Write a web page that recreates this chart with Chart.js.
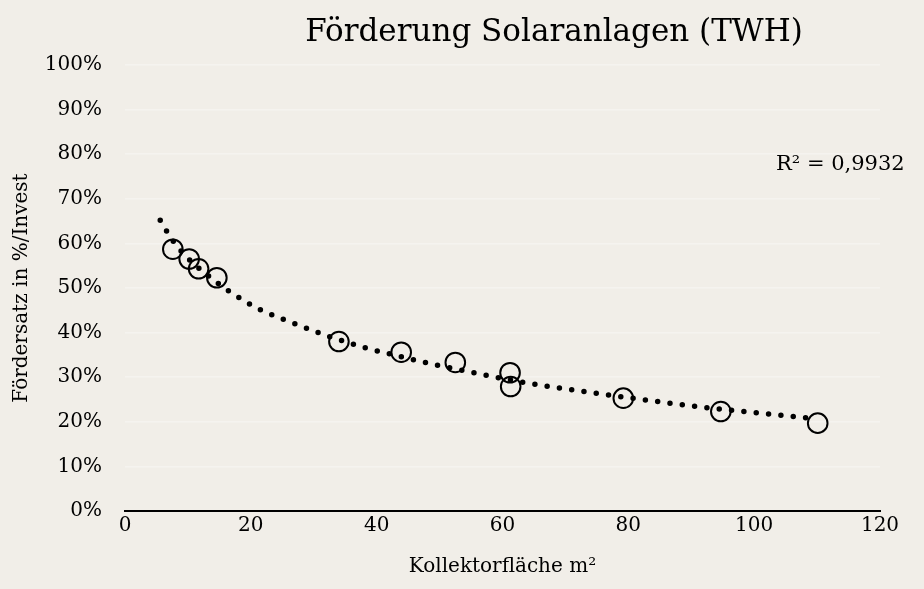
<!DOCTYPE html>
<html>
<head>
<meta charset="utf-8">
<script src="https://cdn.jsdelivr.net/npm/chart.js@4.4.0/dist/chart.umd.min.js"></script>
<style>
  html, body { margin: 0; padding: 0; background: #f1eee8; }
  #wrap { width: 924px; height: 589px; }
</style>
</head>
<body>
<div id="wrap"><canvas id="myChart"></canvas></div>
<script>
// Messpunkte (Kollektorfläche m², Fördersatz %)
const flaeche = [7.6, 10.2, 11.7, 14.6, 34.0, 43.9, 52.5, 61.2, 61.3, 79.2, 94.7, 110.1];
const foerdersatz = [58.7, 56.5, 54.3, 52.3, 38.0, 35.6, 33.3, 31.0, 27.9, 25.3, 22.3, 19.7];

// Trendlinie
const trendX = [5.6, 7.6, 10.2, 13.2, 16.4, 21.4, 27.0, 32.3, 38.2, 43.9, 49.6, 55.4, 61.2, 67.0, 74.9, 82.7, 90.5, 98.3, 104.1, 110.1];
const trendY = [65.2, 60.6, 56.4, 52.8, 49.4, 45.2, 42.0, 39.2, 36.6, 34.6, 32.7, 31.0, 29.4, 28.0, 26.4, 24.9, 23.5, 22.3, 21.5, 20.6];

const xTicks = [0, 20, 40, 60, 80, 100, 120];
const yTicks = [0, 10, 20, 30, 40, 50, 60, 70, 80, 90, 100];

const titel = 'Förderung Solaranlagen (TWH)';
const rQuadrat = 'R² = 0,9932';

const font = 'DejaVu Serif';

const punkte = flaeche.map((x, i) => ({ x: x, y: foerdersatz[i] }));
const trend = trendX.map((x, i) => ({ x: x, y: trendY[i] }));

// Titel und R² Text
const textPlugin = {
    id: 'texte',
    afterDraw(chart) {
        const ctx = chart.ctx;
        const area = chart.chartArea;
        ctx.save();
        ctx.fillStyle = '#000';
        ctx.textBaseline = 'alphabetic';
        ctx.font = '31px "' + font + '"';
        ctx.textAlign = 'center';
        ctx.fillText(titel, 554, 41);
        ctx.font = '21px "' + font + '"';
        ctx.textAlign = 'left';
        ctx.fillText(rQuadrat, area.right - 104, 170);
        ctx.restore();
    }
};

const canvas = document.getElementById('myChart');

new Chart(canvas, {
    type: 'scatter',
    data: {
        datasets: [{
            label: 'Fördersatz',
            data: punkte,
            pointStyle: 'circle',
            pointRadius: 9.8,
            pointHoverRadius: 9.8,
            pointBorderWidth: 2,
            pointBorderColor: '#000',
            pointBackgroundColor: 'rgba(0,0,0,0)',
            showLine: false,
            order: 1
        }, {
            label: 'Trend',
            data: trend,
            showLine: true,
            pointRadius: 0,
            borderColor: '#000',
            borderWidth: 5.5,
            borderDash: [0, 12.4],
            borderCapStyle: 'round',
            cubicInterpolationMode: 'monotone',
            fill: false,
            order: 2
        }]
    },
    options: {
        responsive: true,
        maintainAspectRatio: false,
        animation: false,
        layout: {
            padding: { top: 65, right: 44, left: 0, bottom: 0 }
        },
        plugins: {
            legend: { display: false },
            tooltip: { enabled: false }
        },
        scales: {
            x: {
                type: 'linear',
                min: 0,
                max: 120,
                afterBuildTicks: s => { s.ticks = xTicks.map(v => ({ value: v })); },
                afterFit: s => { s.height = 78; },
                grid: { display: false, drawTicks: false },
                border: { display: true, color: '#000', width: 2 },
                ticks: {
                    color: '#000',
                    padding: 3,
                    font: { family: font, size: 20 }
                },
                title: {
                    display: true,
                    text: 'Kollektorfläche m²',
                    color: '#000',
                    padding: { top: 0, bottom: 10 },
                    font: { family: font, size: 20 }
                }
            },
            y: {
                type: 'linear',
                min: 0,
                max: 100,
                afterBuildTicks: s => { s.ticks = yTicks.map(v => ({ value: v })); },
                afterFit: s => { s.width = 125; },
                grid: { color: '#f5f3ef', lineWidth: 1.5, drawTicks: false },
                border: { display: false },
                ticks: {
                    color: '#000',
                    padding: 23,
                    font: { family: font, size: 20 },
                    callback: v => v + '%'
                },
                title: {
                    display: true,
                    text: 'Fördersatz in %/Invest',
                    color: '#000',
                    padding: { top: 10, bottom: 0 },
                    font: { family: font, size: 20 }
                }
            }
        }
    },
    plugins: [textPlugin]
});
</script>
</body>
</html>
